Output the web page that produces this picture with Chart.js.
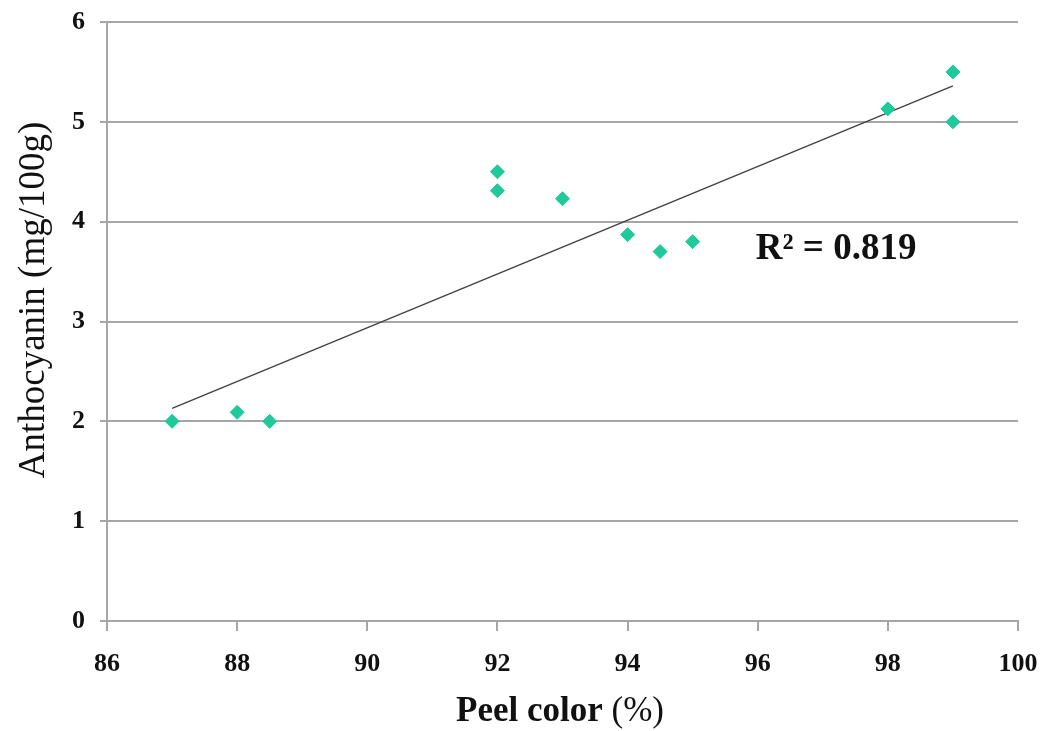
<!DOCTYPE html>
<html>
<head>
<meta charset="utf-8">
<script src="https://cdn.jsdelivr.net/npm/chart.js@4"></script>
<style>
  html, body { margin: 0; padding: 0; background: #fff; }
  #wrap { width: 1051px; height: 731px; position: relative; }
</style>
</head>
<body>
<div id="wrap"><canvas id="chart"></canvas></div>
<script>
// values
const peelColor   = [87, 88, 88.5, 92, 92, 93, 94, 94.5, 95, 98, 99, 99];
const anthocyanin = [2.0, 2.09, 2.0, 4.5, 4.31, 4.23, 3.87, 3.7, 3.8, 5.13, 5.5, 5.0];
const trendX = [87, 99];
const trendY = [2.13, 5.36];
const xTicks = [86, 88, 90, 92, 94, 96, 98, 100];
const yTicks = [0, 1, 2, 3, 4, 5, 6];
const r2Label = 'R² = 0.819';
const r2Pos = [95.97, 3.72];

const serif = "'Liberation Serif', 'Times New Roman', serif";

// x title has a bold part and a plain part, and the R² note sits in the plot
const textPlugin = {
    id: 'texts',
    afterDraw(chart) {
        const ctx = chart.ctx;
        const { x, y } = chart.scales;
        ctx.save();
        ctx.fillStyle = '#111';
        ctx.textBaseline = 'middle';

        // R² label
        ctx.font = `bold 37px ${serif}`;
        ctx.textAlign = 'left';
        ctx.fillText(r2Label, x.getPixelForValue(r2Pos[0]), y.getPixelForValue(r2Pos[1]));

        // x axis title
        const boldPart = 'Peel color ';
        const plainPart = '(%)';
        ctx.font = `bold 35px ${serif}`;
        const w1 = ctx.measureText(boldPart).width;
        ctx.font = `35px ${serif}`;
        const w2 = ctx.measureText(plainPart).width;
        const start = 560 - (w1 + w2) / 2;
        ctx.font = `bold 35px ${serif}`;
        ctx.fillText(boldPart, start, 712);
        ctx.font = `35px ${serif}`;
        ctx.fillText(plainPart, start + w1, 712);

        // y axis title
        ctx.translate(34, 300);
        ctx.rotate(-Math.PI / 2);
        ctx.textAlign = 'center';
        ctx.font = `37px ${serif}`;
        ctx.fillText('Anthocyanin (mg/100g)', 0, 0);
        ctx.restore();
    }
};

new Chart(document.getElementById('chart'), {
    type: 'scatter',
    data: {
        datasets: [
            {
                label: 'Anthocyanin',
                data: peelColor.map((v, i) => ({ x: v, y: anthocyanin[i] })),
                pointStyle: 'rectRot',
                pointRadius: 7,
                pointHoverRadius: 7,
                backgroundColor: '#1fc99a',
                borderColor: '#1fc99a',
                borderWidth: 1,
                order: 1
            },
            {
                label: 'Trend',
                type: 'line',
                data: trendX.map((v, i) => ({ x: v, y: trendY[i] })),
                borderColor: '#444',
                borderWidth: 1.5,
                pointRadius: 0,
                fill: false,
                order: 2
            }
        ]
    },
    options: {
        responsive: true,
        maintainAspectRatio: false,
        animation: false,
        layout: { padding: { top: 22, right: 33, left: 0, bottom: 0 } },
        plugins: {
            legend: { display: false },
            tooltip: { enabled: false }
        },
        scales: {
            x: {
                type: 'linear',
                min: 86,
                max: 100,
                afterBuildTicks: s => { s.ticks = xTicks.map(v => ({ value: v })); },
                afterFit: s => {
                    s.height = 110;
                    s.paddingLeft = 0;
                    s.paddingRight = 0;
                },
                grid: {
                    drawOnChartArea: false,
                    drawTicks: true,
                    tickLength: 10,
                    color: '#a6a6a6',
                    lineWidth: 2
                },
                border: { color: '#a6a6a6', width: 2 },
                ticks: {
                    padding: 18,
                    color: '#111',
                    font: { family: serif, size: 26, weight: 'bold' }
                }
            },
            y: {
                min: 0,
                max: 6,
                afterBuildTicks: s => { s.ticks = yTicks.map(v => ({ value: v })); },
                afterFit: s => {
                    s.width = 107;
                    s.paddingTop = 0;
                    s.paddingBottom = 0;
                },
                grid: {
                    color: '#a6a6a6',
                    lineWidth: 2,
                    tickLength: 7
                },
                border: { color: '#a6a6a6', width: 2 },
                ticks: {
                    padding: 15,
                    color: '#111',
                    font: { family: serif, size: 26, weight: 'bold' }
                }
            }
        }
    },
    plugins: [textPlugin]
});
</script>
</body>
</html>
